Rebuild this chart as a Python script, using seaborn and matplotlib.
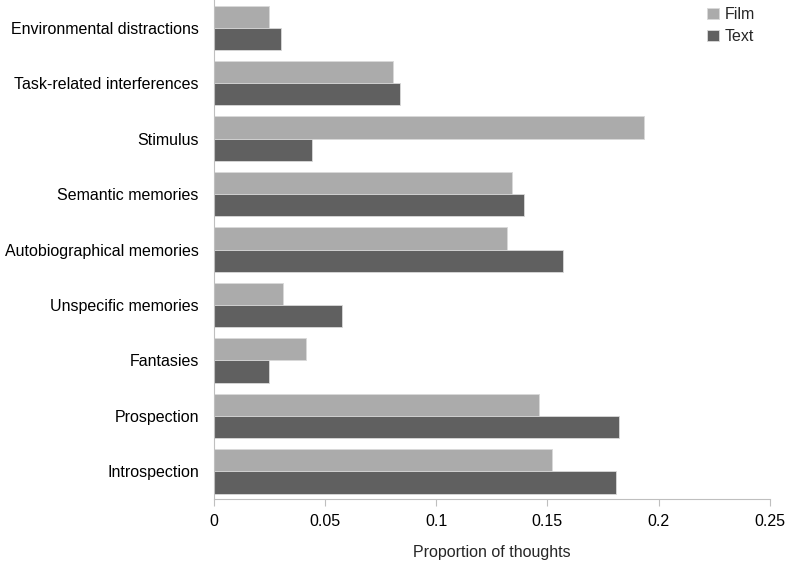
import numpy as np
import pandas as pd
import matplotlib
matplotlib.use('Agg')
import matplotlib.pyplot as plt
import seaborn as sns

# --- data ---
categories = ['Environmental distractions', 'Task-related interferences', 'Stimulus',
              'Semantic memories', 'Autobiographical memories', 'Unspecific memories',
              'Fantasies', 'Prospection', 'Introspection']
film = [0.0247, 0.0805, 0.1933, 0.134, 0.132, 0.031, 0.0414, 0.146, 0.152]
text = [0.030, 0.0836, 0.044, 0.1394, 0.157, 0.0576, 0.0247, 0.182, 0.1808]
x_ticks = [0, 0.05, 0.1, 0.15, 0.2, 0.25]
x_tick_labels = ['0', '0.05', '0.1', '0.15', '0.2', '0.25']

df = pd.DataFrame({
    'category': categories * 2,
    'value': film + text,
    'condition': ['Film'] * len(film) + ['Text'] * len(text),
})

sns.set_theme(style='white')
plt.rcParams['font.family'] = ['Liberation Sans', 'DejaVu Sans']
FS = 11.5

fig = plt.figure(figsize=(7.87, 5.62), dpi=100)
ax = fig.add_axes([0.272, 0.112, 0.706, 0.888])

sns.barplot(data=df, x='value', y='category', hue='condition', order=categories,
            palette={'Film': '#ababab', 'Text': '#606060'}, width=0.8,
            edgecolor='#d9d9d9', linewidth=0.6, ax=ax)

ax.set_xlim(0, 0.25)
ax.set_ylim(8.5, -0.5)
ax.set_xticks(x_ticks)
ax.set_xticklabels(x_tick_labels, fontsize=FS, color='black')
ax.tick_params(axis='y', length=0, labelsize=FS, labelcolor='black', pad=11)
ax.tick_params(axis='x', length=5, width=0.8, color='#bfbfbf', pad=6, bottom=True)
ax.set_ylabel('')
ax.set_xlabel('Proportion of thoughts', fontsize=FS, labelpad=11)

for s in ['top', 'right']:
    ax.spines[s].set_visible(False)
for s in ['left', 'bottom']:
    ax.spines[s].set_color('#bfbfbf')
    ax.spines[s].set_linewidth(0.8)

leg = ax.legend(loc='upper right', bbox_to_anchor=(1.0, 1.015), frameon=False,
                fontsize=FS, handlelength=0.7, handleheight=0.7, handletextpad=0.4,
                labelspacing=0.45, title=None)

fig.savefig('out.png', dpi=100)
